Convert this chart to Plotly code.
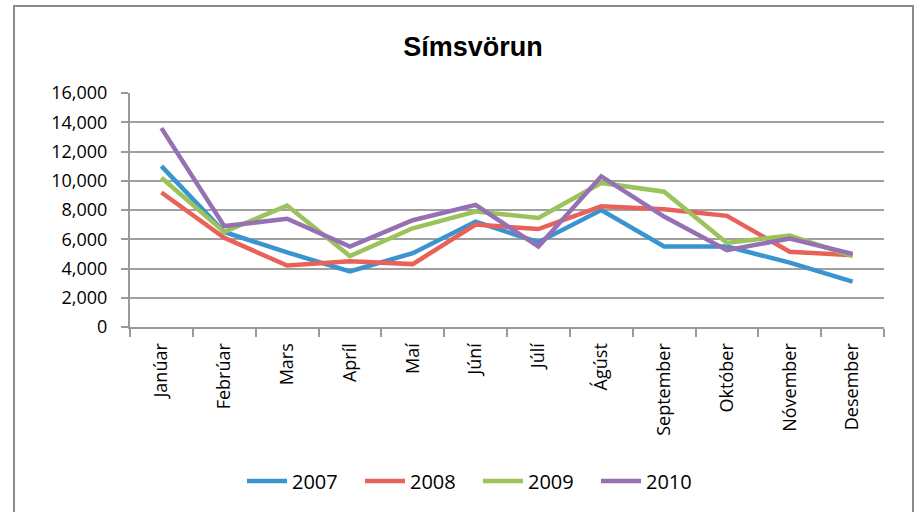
import plotly.graph_objects as go

months = ["Janúar", "Febrúar", "Mars", "Apríl", "Maí", "Júní", "Júlí",
          "Ágúst", "September", "Október", "Nóvember", "Desember"]
v2007 = [11000, 6500, 5100, 3800, 5050, 7200, 5800, 8000, 5500, 5500, 4400, 3100]
v2008 = [9200, 6100, 4200, 4500, 4300, 7000, 6700, 8250, 8050, 7600, 5150, 4900]
v2009 = [10200, 6500, 8300, 4850, 6750, 7900, 7450, 9850, 9250, 5750, 6250, 4850]
v2010 = [13600, 6900, 7400, 5500, 7300, 8350, 5500, 10300, 7550, 5250, 6050, 5000]
series_names = ["2007", "2008", "2009", "2010"]
colors = ["#3A94CF", "#E8625A", "#9CC35B", "#9571B3"]

fig = go.Figure()
for name, vals, col in zip(series_names, [v2007, v2008, v2009, v2010], colors):
    fig.add_trace(go.Scatter(x=months, y=vals, name=name, mode="lines",
                             line=dict(color=col, width=4.5)))

W, H = 920, 512
L, R, T, B = 130, 884, 93, 327
pw, ph = R - L, B - T

fig.update_layout(
    width=W, height=H,
    margin=dict(l=L, r=W - R, t=T, b=H - B, autoexpand=False),
    paper_bgcolor="white", plot_bgcolor="white",
    font=dict(family="Open Sans, Noto Sans, sans-serif", size=18, color="#000000"),
    title=dict(text="<b>Símsvörun</b>", x=473 / W, xanchor="center",
               y=1 - 47 / H, yanchor="middle", yref="container",
               font=dict(family="Liberation Sans, Arial, sans-serif", size=27, color="#000")),
    showlegend=True,
    legend=dict(orientation="h", x=(478 - L) / pw, xanchor="center", xref="paper",
                y=-(481 - B) / ph, yanchor="middle",
                font=dict(size=20), itemwidth=40, tracegroupgap=0,
                entrywidth=63, entrywidthmode="pixels"),
    xaxis=dict(type="category", tickson="boundaries", ticks="outside", ticklen=8,
               tickcolor="#9A9A9A", tickwidth=2, showline=True, linecolor="#9A9A9A",
               linewidth=2, showgrid=False, tickangle=-90, tickfont=dict(size=18),
               ticklabelstandoff=7, range=[-0.5, 11.5]),
    yaxis=dict(range=[0, 16000], dtick=2000, tickformat=",d", ticks="outside",
               ticklen=7, tickcolor="#9A9A9A", tickwidth=2, showline=True,
               linecolor="#9A9A9A", linewidth=2, showgrid=True, gridcolor="#A0A0A0",
               gridwidth=2, zeroline=False, tickfont=dict(size=18),
               ticklabelstandoff=10),
    shapes=[dict(type="rect", xref="paper", yref="paper",
                 x0=(14 - L) / pw, x1=(913 - L) / pw,
                 y0=(B - 530) / ph, y1=(B - 6) / ph,
                 line=dict(color="#8C8C8C", width=2), fillcolor="rgba(0,0,0,0)",
                 layer="below")],
)

fig.write_html("out.html", config={"displayModeBar": False},
               post_script="document.body.style.margin='0';document.body.style.overflow='hidden';")
